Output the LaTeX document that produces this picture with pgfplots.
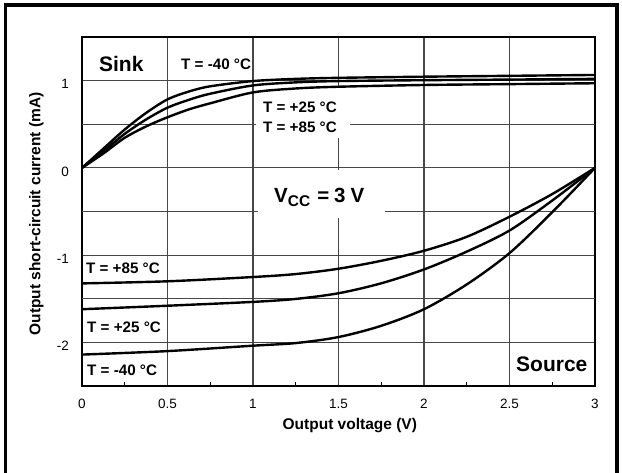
\documentclass[border=0pt]{standalone}
\usepackage{fontspec}
\setmainfont{Liberation Sans}
\usepackage{pgfplots}
\pgfplotsset{compat=1.18}

\begin{document}
\begin{tikzpicture}[
  tlab/.style={anchor=base west, inner sep=0pt, font=\bfseries\fontsize{15.2}{17}\selectfont}]
\useasboundingbox (-82pt,-86pt) rectangle (540pt,386pt);
% outer frame (open at the bottom)
\draw[line width=3.3pt] (-76.3pt,-95pt) -- (-76.3pt,381pt) -- (535pt,381pt) -- (535pt,-95pt);
\begin{axis}[
  at={(0pt,0pt)}, anchor=south west,
  scale only axis, width=513pt, height=349pt,
  xmin=0, xmax=3, ymin=-2.5, ymax=1.5,
  xtick={0,0.5,1,1.5,2,2.5,3},
  xticklabels={0,0.5,1,1.5,2,2.5,3},
  minor xtick={0.25,0.75,1.25,1.75,2.25,2.75},
  ytick={-2,-1,0,1},
  yticklabels={-2,-1,0,1},
  extra y ticks={-1.5,-0.5,0.5},
  extra y tick labels={},
  extra y tick style={grid=major},
  xmajorgrids, ymajorgrids,
  grid style={black!72, line width=1.2pt},
  tick align=inside, xtick pos=bottom, ytick pos=left,
  tick style={black, line width=1pt},
  minor tick style={black, line width=1pt},
  major tick length=0pt, minor tick length=4pt,
  axis line style={line width=1.5pt},
  ticklabel style={font=\fontsize{13.5}{15}\selectfont},
  xticklabel style={yshift=-9.5pt},
  yticklabel style={xshift=-9.5pt, yshift=-3.5pt},
  xlabel={Output voltage (V)},
  ylabel={Output short-circuit current (mA)},
  label style={font=\bfseries\fontsize{15.5}{17}\selectfont},
  xlabel style={at={(axis description cs:0.522,-0.126)}, anchor=base},
  ylabel style={at={(axis description cs:-0.081,0.493)}, anchor=base},
  curve/.style={black, line width=2.4pt, smooth, no markers},
]
% white patches behind the labels
\fill[white] (axis cs:1.02,0.34) rectangle (axis cs:1.567,0.915);
\fill[white] (axis cs:1.03,-0.03) rectangle (axis cs:1.772,-0.57);

% Sink, T = -40 C
\addplot[curve] coordinates {(0,0) (0.125,0.22) (0.25,0.44) (0.375,0.63) (0.5,0.785) (0.625,0.875) (0.75,0.935) (1,0.995) (1.25,1.02) (1.5,1.032) (2,1.045) (2.5,1.055) (3,1.065)};
% Sink, T = +25 C
\addplot[curve] coordinates {(0,0) (0.125,0.19) (0.25,0.39) (0.375,0.555) (0.5,0.69) (0.625,0.78) (0.75,0.85) (1,0.945) (1.25,0.98) (1.5,0.995) (2,1.005) (2.5,1.012) (3,1.02)};
% Sink, T = +85 C
\addplot[curve] coordinates {(0,0) (0.125,0.165) (0.25,0.345) (0.375,0.475) (0.5,0.58) (0.625,0.67) (0.75,0.74) (1,0.865) (1.25,0.91) (1.5,0.93) (2,0.95) (2.5,0.96) (3,0.97)};

% Source, T = +85 C
\addplot[curve] coordinates {(0,-1.324) (0.5,-1.30) (1,-1.251) (1.25,-1.217) (1.5,-1.156) (1.75,-1.065) (2,-0.95) (2.25,-0.79) (2.5,-0.56) (2.75,-0.30) (3,0)};
% Source, T = +25 C
\addplot[curve] coordinates {(0,-1.62) (0.5,-1.58) (1,-1.536) (1.25,-1.502) (1.5,-1.437) (1.75,-1.323) (2,-1.164) (2.25,-0.96) (2.5,-0.718) (2.75,-0.374) (3,0)};
% Source, T = -40 C
\addplot[curve] coordinates {(0,-2.14) (0.5,-2.10) (1,-2.038) (1.25,-2.008) (1.5,-1.939) (1.75,-1.81) (2,-1.62) (2.25,-1.336) (2.5,-0.977) (2.75,-0.508) (3,0)};

\node[tlab, font=\bfseries\fontsize{21}{23}\selectfont] at (axis cs:0.099,1.108) {Sink};
\node[tlab] at (axis cs:0.579,1.131) {T = -40 °C};
\node[tlab] at (axis cs:1.058,0.631) {T = +25 °C};
\node[tlab] at (axis cs:1.058,0.403) {T = +85 °C};
\node[tlab, font=\bfseries\fontsize{20.5}{22}\selectfont] at (axis cs:1.123,-0.392)
  {V\raisebox{-4.5pt}{\fontsize{15.5}{15}\selectfont CC}\hspace*{7pt}=\hspace*{5pt}3\hspace*{5pt}V};
\node[tlab] at (axis cs:0.023,-1.21) {T = +85 °C};
\node[tlab] at (axis cs:0.029,-1.892) {T = +25 °C};
\node[tlab] at (axis cs:0.029,-2.375) {T = -40 °C};
\node[tlab, font=\bfseries\fontsize{21}{23}\selectfont] at (axis cs:2.538,-2.335) {Source};
\end{axis}
\end{tikzpicture}
\end{document}
